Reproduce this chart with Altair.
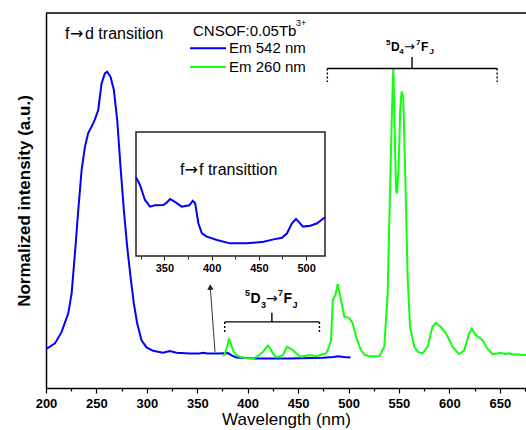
import altair as alt
import pandas as pd

FONT = "Liberation Sans"
ARROW_FONT = "DejaVu Sans"

# ---------------- data ----------------
blue_wl = [200, 208.9, 215.5, 222.1, 225.4, 228.7, 232, 235.3, 238.6, 241.9,
           245.2, 248.5, 251.8, 255.1, 258.4, 260.7, 264, 267.3, 270.6, 273.9,
           277.2, 280.5, 283.8, 287.1, 290.4, 294.7, 299.7, 306.2, 316.1, 322.7,
           329.4, 342.5, 352, 356, 360, 372, 380.4, 384, 388.7, 408.5,
           441.5, 474.4, 485, 490, 495, 502]
blue_val = [0.028, 0.048, 0.088, 0.153, 0.223, 0.363, 0.514, 0.654, 0.735, 0.784,
            0.805, 0.831, 0.864, 0.957, 0.992, 0.998, 0.980, 0.934, 0.829, 0.665,
            0.514, 0.386, 0.281, 0.188, 0.118, 0.059, 0.034, 0.022, 0.015, 0.021,
            0.015, 0.013, 0.013, 0.015, 0.013, 0.013, 0.014, 0.006, -0.001, -0.005,
            -0.005, -0.002, 0.000, 0.003, 0.0, -0.001]

green_wl = [375, 377, 379.5, 381.4, 383, 385.4, 388, 392, 398, 405.2,
            410.1, 415, 420, 422.5, 425, 428.3, 434.9, 438.8, 441.5, 444.8,
            449, 453, 461.3, 467.9, 473, 477.8, 480.5, 482.7, 484.4, 487,
            489.3, 492.6, 495.9, 499.2, 502, 504.1, 507.5, 512.4, 516, 520.7,
            530.6, 535.5, 538.8, 541.1, 543.1, 544.4, 545.7, 547.1, 548.1, 549.7,
            551.3, 552.6, 554.3, 556.3, 558.6, 561, 565.2, 569, 573.4, 578.4,
            583.3, 586.7, 589, 591.6, 596.6, 600, 603.1, 609.7, 614.7, 619.6,
            622.3, 626.2, 629, 632.8, 637.7, 642.7, 646, 651, 655, 659.2,
            662, 665.9, 670, 674.1, 676]
green_val = [0.005, 0.008, 0.035, 0.062, 0.050, 0.024, 0.010, 0.001, -0.003, -0.005,
             0.003, 0.018, 0.040, 0.030, 0.013, -0.001, 0.007, 0.036, 0.032, 0.024,
             0.010, 0.001, 0.007, 0.003, 0.008, 0.013, 0.035, 0.059, 0.199, 0.217,
             0.255, 0.199, 0.141, 0.139, 0.130, 0.118, 0.071, 0.024, 0.008, 0.003,
             0.003, 0.036, 0.223, 0.572, 0.864, 1.010, 0.805, 0.584, 0.572, 0.665,
             0.864, 0.928, 0.910, 0.630, 0.281, 0.106, 0.036, 0.018, 0.013, 0.036,
             0.106, 0.120, 0.112, 0.106, 0.083, 0.060, 0.036, 0.010, 0.024, 0.083,
             0.100, 0.077, 0.070, 0.059, 0.030, 0.010, 0.012, 0.015, 0.011, 0.013,
             0.009, 0.010, 0.008, 0.007, 0.007]

inset_wl = [320, 324.2, 329.5, 334.8, 340, 349, 352.5, 356, 359.5, 368.4,
            372, 376.5, 380, 382.6, 386, 389.7, 395, 405.6, 419.7, 437.4,
            455, 465.6, 474.5, 479.8, 485, 489.3, 492, 496.7, 504.5, 511.6, 520]
inset_val = [0.636, 0.573, 0.452, 0.398, 0.409, 0.411, 0.430, 0.459, 0.444, 0.398,
             0.403, 0.409, 0.446, 0.425, 0.264, 0.183, 0.156, 0.129, 0.102, 0.102,
             0.115, 0.134, 0.147, 0.183, 0.264, 0.298, 0.277, 0.237, 0.244, 0.264, 0.313]

series_names = ["Em 542 nm", "Em 260 nm"]
series_colors = ["#0000ff", "#11ff11"]

x_ticks = list(range(200, 676, 25))
inset_ticks = list(range(325, 520, 25))

# annotation brackets: (x, x2, y, y2, style)
seg_x = [479.0, 563.0, 479.0, 647.4, 377.2, 424.0, 377.2, 471.2]
seg_x2 = [647.4, 563.0, 479.0, 647.4, 471.2, 424.0, 377.2, 471.2]
seg_y = [1.009, 1.009, 1.009, 1.009, 0.123, 0.123, 0.123, 0.123]
seg_y2 = [1.009, 1.049, 0.962, 0.962, 0.123, 0.155, 0.088, 0.088]
seg_style = ["solid", "solid", "dash", "dash", "solid", "solid", "dash", "dash"]

# legend sample lines
leg_x = [342.8, 342.8]
leg_x2 = [378.5, 378.5]
leg_y = [1.080, 1.014]

# text pieces (main panel)
txt = ["5", "D", "4", "\u2192", "7", "F", "J",
       "5", "D", "3", "\u2192", "7", "F", "J",
       "CNSOF:0.05Tb", "3+", "Em 542 nm", "Em 260 nm",
       "f", "\u2192", "d transition"]
txt_x = [537.2, 542.1, 550.2, 555.0, 566.9, 571.9, 580.3,
         397.3, 402.8, 413.2, 418.2, 430.1, 435.5, 444.4,
         345.8, 447.9, 381.5, 381.5,
         218.8, 223.8, 238.7]
txt_y = [1.098, 1.084, 1.066, 1.084, 1.098, 1.084, 1.066,
         0.223, 0.203, 0.182, 0.203, 0.223, 0.203, 0.182,
         1.140, 1.168, 1.080, 1.014,
         1.129, 1.129, 1.129]
txt_size = [8, 12, 8, 13, 8, 12, 8,
            9, 14, 9, 14, 9, 14, 9,
            15, 9, 15, 15,
            16, 16, 16]
txt_bold = [1, 1, 1, 0, 1, 1, 1,
            1, 1, 1, 0, 1, 1, 1,
            0, 0, 0, 0,
            0, 0, 0]
txt_arrow = [0, 0, 0, 1, 0, 0, 0,
             0, 0, 0, 1, 0, 0, 0,
             0, 0, 0, 0,
             0, 1, 0]

# inset title pieces
itxt = ["f", "\u2192", "f transittion"]
itxt_x = [366.6, 371.3, 386.7]
itxt_y = [0.694, 0.694, 0.694]
itxt_arrow = [0, 1, 0]

# arrow pointing to the inset
arrow_x = [367.6]
arrow_x2 = [362.9]
arrow_y = [0.0185]
arrow_y2 = [0.245]

# ---------------- tables ----------------
main_df = pd.concat([
    pd.DataFrame({"wl": blue_wl, "val": blue_val, "series": series_names[0]}),
    pd.DataFrame({"wl": green_wl, "val": green_val, "series": series_names[1]}),
])
seg_df = pd.DataFrame({"x": seg_x, "x2": seg_x2, "y": seg_y, "y2": seg_y2, "style": seg_style})
leg_df = pd.DataFrame({"x": leg_x, "x2": leg_x2, "y": leg_y, "series": series_names})
txt_df = pd.DataFrame({"t": txt, "x": txt_x, "y": txt_y, "s": txt_size, "b": txt_bold, "a": txt_arrow})
arrow_df = pd.DataFrame({"x": arrow_x, "x2": arrow_x2, "y": arrow_y, "y2": arrow_y2})
inset_df = pd.DataFrame({"wl": inset_wl, "val": inset_val})
inset_box = pd.DataFrame({"x": [320], "x2": [520], "y": [0.0], "y2": [1.0]})
itxt_df = pd.DataFrame({"t": itxt, "x": itxt_x, "y": itxt_y, "a": itxt_arrow})

# ---------------- scales / axes ----------------
xs = alt.Scale(domain=[200, 676], nice=False, zero=False)
ys = alt.Scale(domain=[-0.108, 1.203], nice=False, zero=False)

x_axis = alt.Axis(
    title="Wavelength (nm)", values=x_ticks,
    labelExpr="datum.value % 50 === 0 ? datum.label : ''",
    tickSize={"condition": {"test": "datum.value % 50 === 0", "value": 5}, "value": 3},
    tickColor="black", tickWidth=1.2, domainColor="black", domainWidth=1.5,
    labelFont=FONT, labelFontSize=13, labelFontWeight="bold", labelColor="black",
    labelPadding=4, labelFlush=False, labelOverlap=False,
    titleFont=FONT, titleFontSize=17, titleFontWeight="normal", titleColor="black",
    titlePadding=1, grid=False,
)
y_axis = alt.Axis(
    title="Normalized intensity (a.u.)", labels=False, ticks=False,
    domainColor="black", domainWidth=1.5, grid=False,
    titleFont=FONT, titleFontSize=17, titleFontWeight="bold", titleColor="black",
    titlePadding=13,
)

color = alt.Color("series:N", scale=alt.Scale(domain=series_names, range=series_colors), legend=None)

lines = alt.Chart(main_df).mark_line(strokeWidth=2, clip=True).encode(
    x=alt.X("wl:Q", scale=xs, axis=x_axis),
    y=alt.Y("val:Q", scale=ys, axis=y_axis),
    color=color,
    order="wl:Q",
)

segs = alt.Chart(seg_df).mark_rule(color="black", strokeWidth=1.4).encode(
    x=alt.X("x:Q", scale=xs, axis=x_axis), x2="x2:Q",
    y=alt.Y("y:Q", scale=ys, axis=y_axis), y2="y2:Q",
    strokeDash=alt.StrokeDash("style:N", scale=alt.Scale(domain=["solid", "dash"], range=[[1, 0], [2, 2]]), legend=None),
)

legs = alt.Chart(leg_df).mark_rule(strokeWidth=2).encode(
    x=alt.X("x:Q", scale=xs, axis=x_axis), x2="x2:Q",
    y=alt.Y("y:Q", scale=ys, axis=y_axis),
    color=color,
)

arrow_line = alt.Chart(arrow_df).mark_rule(color="#333333", strokeWidth=1).encode(
    x=alt.X("x:Q", scale=xs, axis=x_axis), x2="x2:Q",
    y=alt.Y("y:Q", scale=ys, axis=y_axis), y2="y2:Q",
)
arrow_head = alt.Chart(arrow_df).mark_point(shape="triangle-up", filled=True, color="#222222",
                                            size=40, angle=356, opacity=1).encode(
    x=alt.X("x2:Q", scale=xs, axis=x_axis),
    y=alt.Y("y2:Q", scale=ys, axis=y_axis),
)


def text_layer(bold, arrow):
    return alt.Chart(txt_df).transform_filter(
        f"datum.b == {bold} && datum.a == {arrow}"
    ).mark_text(
        align="left", baseline="middle", font=ARROW_FONT if arrow else FONT, color="black",
        fontWeight="bold" if bold else "normal",
    ).encode(
        x=alt.X("x:Q", scale=xs, axis=x_axis),
        y=alt.Y("y:Q", scale=ys, axis=y_axis),
        text="t:N",
        size=alt.Size("s:Q", scale=None, legend=None),
    )


top_border = alt.Chart(arrow_df).mark_rule(color="black", strokeWidth=1.5).encode(
    x=alt.value(0), x2=alt.value(480), y=alt.value(0),
)

main = alt.layer(lines, segs, legs, arrow_line, arrow_head,
                 text_layer(1, 0), text_layer(0, 0), text_layer(0, 1), top_border)

# ---------------- inset ----------------
ixs = alt.Scale(domain=[320, 520], range=[90, 279], nice=False, zero=False)
iys = alt.Scale(domain=[0, 1], range=[243, 119], nice=False, zero=False)
ix_axis = alt.Axis(
    orient="bottom", offset=-132, title=None, values=inset_ticks,
    labelExpr="datum.value % 50 === 0 ? datum.label : ''",
    tickSize={"condition": {"test": "datum.value % 50 === 0", "value": 4}, "value": 3},
    tickColor="#222222", tickWidth=1, domain=False,
    labelFont=FONT, labelFontSize=11, labelFontWeight="bold", labelColor="black",
    labelPadding=2, labelFlush=False, labelOverlap=False, grid=False,
)

box = alt.Chart(inset_box).mark_rect(fill="white", stroke="#222222", strokeWidth=1.5).encode(
    x=alt.X("x:Q", scale=ixs, axis=ix_axis), x2="x2:Q",
    y=alt.Y("y:Q", scale=iys, axis=None), y2="y2:Q",
)
inset_line = alt.Chart(inset_df).mark_line(color="#0000ff", strokeWidth=2).encode(
    x=alt.X("wl:Q", scale=ixs, axis=ix_axis),
    y=alt.Y("val:Q", scale=iys, axis=None),
)


def inset_text(arrow):
    return alt.Chart(itxt_df).transform_filter(f"datum.a == {arrow}").mark_text(
        font=ARROW_FONT if arrow else FONT, fontSize=16, color="black",
        align="left", baseline="middle",
    ).encode(
        x=alt.X("x:Q", scale=ixs, axis=ix_axis),
        y=alt.Y("y:Q", scale=iys, axis=None),
        text="t:N",
    )


inset = alt.layer(box, inset_line, inset_text(0), inset_text(1))

chart = alt.layer(main, inset).resolve_scale(x="independent", y="independent").properties(
    width=480, height=375,
    padding={"left": 46, "top": 13, "right": 0, "bottom": 42},
    autosize=alt.AutoSizeParams(type="none"),
    background="white",
).configure_view(stroke=None)

chart.save("out.html", embed_options={"renderer": "svg", "actions": False})
